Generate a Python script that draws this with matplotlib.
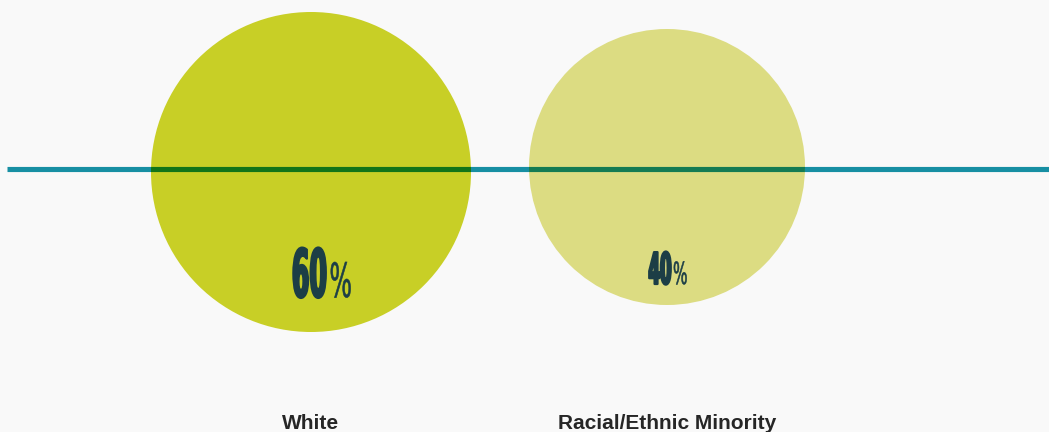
import matplotlib
matplotlib.use("Agg")
import matplotlib.pyplot as plt
from matplotlib.patches import Circle
from matplotlib.transforms import Affine2D
from matplotlib import patheffects
from matplotlib.colors import to_rgb

# data
groups = ["White", "Racial/Ethnic Minority"]
shares = [60, 40]
value_labels = ["60", "40"]

# layout (pixels, y going down)
W, H = 1049, 432
centers_x = [311, 667]
centers_y = [172, 167]
r_small, r_big = 138, 160
line_y = 168.5
num_right = [329, 673]
num_base = [297, 284]
num_size = [48, 31.5]
pct_left = [329.5, 673]
pct_size = [34, 22]

bg = "#f9f9f9"
circle_colors = ["#c8cf26", "#dcdc82"]
line_color = "#178fa3"
text_dark = "#1c3e46"


class Squeeze(patheffects.AbstractPathEffect):
    """draw text narrower and a bit heavier, like a condensed display face"""

    def __init__(self, sx, lw, pivot="left"):
        super().__init__()
        self.sx = sx
        self.lw = lw
        self.pivot = pivot

    def draw_path(self, renderer, gc, tpath, affine, rgbFace=None):
        x0 = 0
        if self.pivot == "right":
            x0 = tpath.get_extents().x1
        sq = Affine2D().translate(-x0, 0).scale(self.sx, 1).translate(x0, 0)
        gc0 = renderer.new_gc()
        gc0.copy_properties(gc)
        gc0.set_linewidth(self.lw)
        gc0.set_foreground(rgbFace)
        gc0.set_joinstyle("round")
        renderer.draw_path(gc0, tpath, sq + affine, rgbFace)
        gc0.restore()


def radius(v):
    lo, hi = min(shares), max(shares)
    return r_small + (v - lo) / (hi - lo) * (r_big - r_small)


def multiply(c1, c2):
    a, b = to_rgb(c1), to_rgb(c2)
    return tuple(x * y for x, y in zip(a, b))


fig = plt.figure(figsize=(W / 100, H / 100), dpi=100, facecolor=bg)
ax = fig.add_axes([0, 0, 1, 1])
ax.set_xlim(0, W)
ax.set_ylim(H, 0)
ax.set_facecolor(bg)
ax.axis("off")

ax.plot([7, W], [line_y, line_y], color=line_color, lw=3.7, solid_capstyle="butt", zorder=1)

for i, v in enumerate(shares):
    r = radius(v)
    c = Circle((centers_x[i], centers_y[i]), r, facecolor=circle_colors[i], edgecolor="none", zorder=2)
    ax.add_patch(c)
    # line shows through the circle (multiply look)
    seg, = ax.plot([7, W], [line_y, line_y], color=multiply(line_color, circle_colors[i]),
                   lw=3.7, solid_capstyle="butt", zorder=3)
    seg.set_clip_path(c)

    t = ax.text(num_right[i], num_base[i], value_labels[i], ha="right", va="baseline",
                fontsize=num_size[i], fontweight="bold", color=text_dark,
                family="DejaVu Sans", zorder=4)
    t.set_path_effects([Squeeze(0.38, 1.6, pivot="right")])
    p = ax.text(pct_left[i], num_base[i], "%", ha="left", va="baseline",
                fontsize=pct_size[i], color=text_dark, family="DejaVu Sans", zorder=4)
    p.set_path_effects([Squeeze(0.5, 0.4)])

    ax.text(centers_x[i], 429, groups[i], ha="center", va="baseline", fontsize=15,
            fontweight="bold", color="#262626", family="Liberation Sans")

fig.savefig("out.png", dpi=100, facecolor=bg)
